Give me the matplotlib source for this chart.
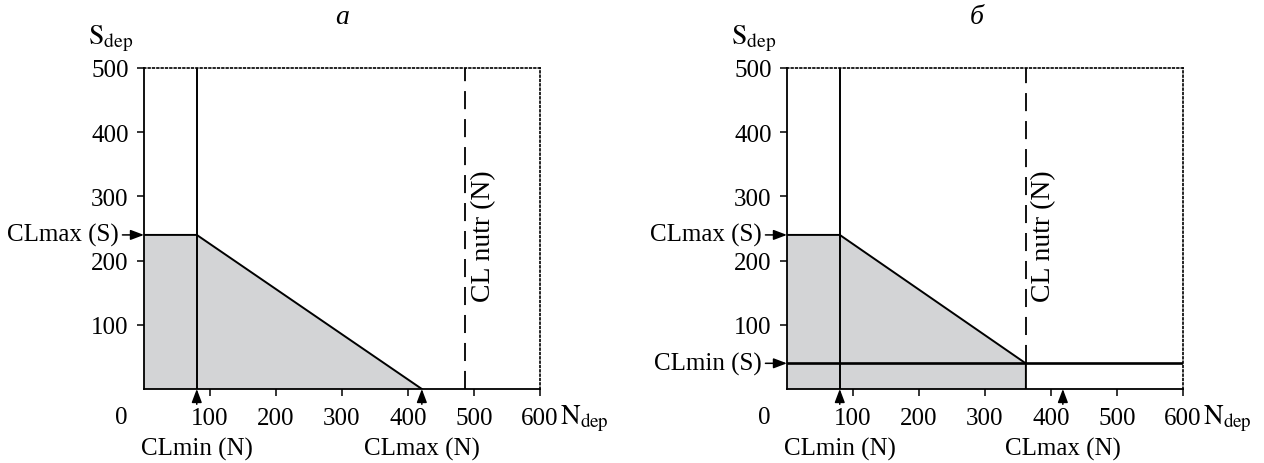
import numpy as np
import matplotlib
matplotlib.use('Agg')
import matplotlib.pyplot as plt

# Datos de los dos paneles (а, б)
panel_titles = ['а', 'б']
cl_min_n = [80, 80]        # CLmin (N)
cl_max_n = [421, 418]      # CLmax (N)
cl_max_s = [240, 240]      # CLmax (S)
cl_nutr_n = [487, 362]     # CLnutr (N)
cl_min_s = [None, 40]      # CLmin (S), solo en el panel б

x_ticks = [100, 200, 300, 400, 500, 600]
y_ticks = [100, 200, 300, 400, 500]
x_max = 600
y_max = 500

plt.rcParams['font.family'] = ['Liberation Serif', 'DejaVu Serif']
plt.rcParams['mathtext.fontset'] = 'stix'
plt.rcParams['font.size'] = 18

gris = '#d3d4d6'
punteado = (0, (1, 1.6))

fig = plt.figure(figsize=(12.64, 4.64), dpi=100)
axes_left = [0.1139, 0.6226]
titulo_x = [0.5, 0.48]

for i in range(2):
    ax = fig.add_axes([axes_left[i], 0.1595, 0.3133, 0.6918])
    ax.set_xlim(0, x_max)
    ax.set_ylim(0, y_max)

    nmin = cl_min_n[i]
    nmax = cl_max_n[i]
    smax = cl_max_s[i]
    nnutr = cl_nutr_n[i]
    smin = cl_min_s[i]

    # Zona sombreada bajo la recta
    pendiente = -smax / (nmax - nmin)
    if nnutr < nmax:
        s_fin = smax + pendiente * (nnutr - nmin)
        xs = [0, 0, nmin, nnutr, nnutr]
        ys = [0, smax, smax, s_fin, 0]
    else:
        s_fin = 0
        xs = [0, 0, nmin, nmax]
        ys = [0, smax, smax, 0]
    ax.fill(xs, ys, color=gris, lw=0, zorder=1)
    ax.plot(xs[1:], ys[1:], color='k', lw=1.4, zorder=3)

    # Linea vertical de CLmin (N)
    ax.plot([nmin, nmin], [0, y_max], color='k', lw=1.4, zorder=3)

    # Linea discontinua de CLnutr (N)
    ax.plot([nnutr, nnutr], [s_fin, y_max], color='k', lw=1.3,
            dashes=(10, 5.5), zorder=3)
    ax.text(nnutr + 27, 342, 'CL nutr (N)', rotation=90, ha='center',
            va='top', fontsize=20)

    # Linea horizontal de CLmin (S)
    if smin is not None:
        ax.plot([0, x_max], [smin, smin], color='k', lw=1.9, zorder=4)

    # Bordes
    for lado in ['left', 'bottom']:
        ax.spines[lado].set_linewidth(1.3)
    for lado in ['top', 'right']:
        ax.spines[lado].set_linestyle(punteado)
        ax.spines[lado].set_linewidth(1.2)

    ax.set_xticks(x_ticks)
    ax.set_yticks(y_ticks)
    ax.tick_params(direction='out', length=5, width=1.1)
    ax.tick_params(axis='x', pad=8)
    ax.tick_params(axis='y', pad=6)

    # Cero en la esquina
    ax.annotate('0', xy=(0, 0), xytext=(-16, -20), textcoords='offset points',
                ha='center', va='center', annotation_clip=False)

    # Etiquetas de ejes
    ax.annotate(r'$\mathrm{S}_{\mathrm{dep}}$', xy=(0, 1), xycoords='axes fraction',
                xytext=(-40, 11), textcoords='offset points', ha='left',
                va='bottom', fontsize=20, annotation_clip=False)
    ax.annotate(r'$\mathrm{N}_{\mathrm{dep}}$', xy=(1, 0), xycoords='axes fraction',
                xytext=(14.5, -25), textcoords='offset points', ha='left',
                va='baseline', fontsize=19.5, annotation_clip=False)

    # Flechas y rotulos
    flecha = dict(arrowstyle='-|>,head_length=0.45,head_width=0.17', color='k',
                  lw=1.1, shrinkA=0, shrinkB=0)
    for n, txt in [(nmin, 'CLmin (N)'), (nmax, 'CLmax (N)')]:
        ax.annotate('', xy=(n, 0), xytext=(0, -11), textcoords='offset points',
                    arrowprops=flecha, annotation_clip=False)
        ax.annotate(txt, xy=(n, 0), xytext=(0, -43), textcoords='offset points',
                    ha='center', va='center', annotation_clip=False)
    etiquetas_s = [(smax, 'CLmax (S)')]
    if smin is not None:
        etiquetas_s.append((smin, 'CLmin (S)'))
    for s, txt in etiquetas_s:
        ax.annotate('', xy=(0, s), xytext=(-15.5, 0), textcoords='offset points',
                    arrowprops=flecha, annotation_clip=False)
        ax.annotate(txt, xy=(0, s), xytext=(-18.5, 0), textcoords='offset points',
                    ha='right', va='center', annotation_clip=False)

    ax.text(titulo_x[i], 1 + (69 - 18) / 321, panel_titles[i], transform=ax.transAxes,
            ha='center', va='center', style='italic', fontsize=20)

fig.savefig('out.png', dpi=100)
